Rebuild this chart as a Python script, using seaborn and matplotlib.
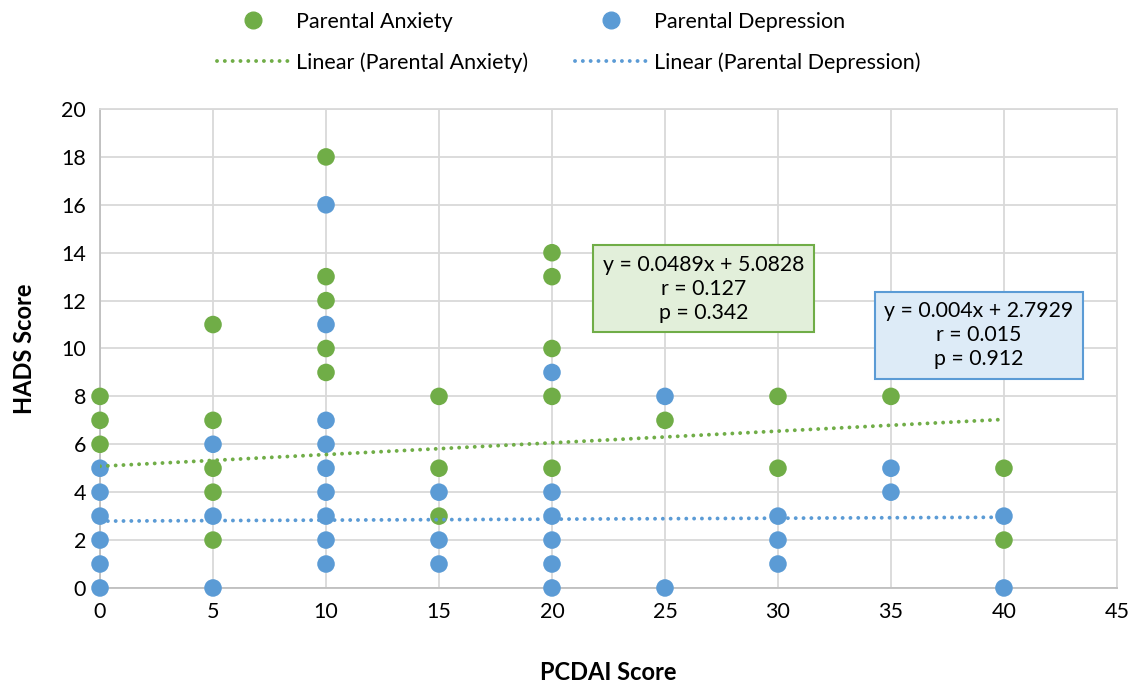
import numpy as np
import pandas as pd
import matplotlib
matplotlib.use('Agg')
import matplotlib.pyplot as plt
import seaborn as sns
from matplotlib.lines import Line2D

# Data
anx_x = [0, 0, 0, 5, 5, 5, 5, 5, 10, 10, 10, 10, 10, 15, 15, 15,
         20, 20, 20, 20, 20, 25, 30, 30, 35, 40, 40]
anx_y = [8, 7, 6, 11, 7, 5, 4, 2, 18, 13, 12, 10, 9, 8, 5, 3,
         14, 13, 10, 8, 5, 7, 8, 5, 8, 5, 2]
dep_x = [0, 0, 0, 0, 0, 0, 5, 5, 5, 10, 10, 10, 10, 10, 10, 10, 10, 10,
         15, 15, 15, 20, 20, 20, 20, 20, 20, 25, 25, 30, 30, 30, 35, 35, 40, 40]
dep_y = [5, 4, 3, 2, 1, 0, 6, 3, 0, 16, 11, 7, 6, 5, 4, 3, 2, 1,
         4, 2, 1, 9, 4, 3, 2, 1, 0, 8, 0, 3, 2, 1, 5, 4, 3, 0]

# Trendline coefficients as printed in the chart
anx_fit = (0.0489, 5.0828)
dep_fit = (0.004, 2.7929)
fit_range = [0, 40]

green = '#70AD47'
blue = '#5B9BD5'
dotted = (0, (0.01, 2.0))

df = pd.concat([
    pd.DataFrame({'PCDAI': anx_x, 'HADS': anx_y, 'group': 'Parental Anxiety'}),
    pd.DataFrame({'PCDAI': dep_x, 'HADS': dep_y, 'group': 'Parental Depression'}),
])

sns.set_style('white')
plt.rcParams['font.family'] = ['Lato', 'DejaVu Sans']
plt.rcParams['text.color'] = 'black'

fig = plt.figure(figsize=(11.38, 6.84), dpi=100)
ax = fig.add_axes([0.0879, 0.1404, 0.8936, 0.7002])

sns.scatterplot(data=df, x='PCDAI', y='HADS', hue='group',
                palette={'Parental Anxiety': green, 'Parental Depression': blue},
                s=160, edgecolor='none', ax=ax, legend=False, zorder=3, clip_on=False)

fx = np.array(fit_range)
ax.plot(fx, anx_fit[0] * fx + anx_fit[1], color=green, lw=2.8,
        linestyle=dotted, dash_capstyle='round', zorder=4)
ax.plot(fx, dep_fit[0] * fx + dep_fit[1], color=blue, lw=2.8,
        linestyle=dotted, dash_capstyle='round', zorder=4)

ax.set_xlim(0, 45)
ax.set_ylim(0, 20)
ax.set_xticks(range(0, 46, 5))
ax.set_yticks(range(0, 21, 2))
ax.grid(True, color='#D9D9D9', lw=1.3)
ax.set_axisbelow(True)
for side in ['top', 'right']:
    ax.spines[side].set_color('#D9D9D9')
    ax.spines[side].set_linewidth(1.3)
for side in ['left', 'bottom']:
    ax.spines[side].set_color('#BFBFBF')
    ax.spines[side].set_linewidth(1.3)
ax.tick_params(axis='both', length=0, labelsize=15.5, pad=10, labelcolor='black')
ax.set_xlabel('PCDAI Score', fontsize=17, fontweight='bold', labelpad=28, color='black')
ax.set_ylabel('HADS Score', fontsize=17, fontweight='bold', labelpad=18, color='black')

ax.text(26.7, 12.5, 'y = 0.0489x + 5.0828\nr = 0.127\np = 0.342',
        ha='center', va='center', fontsize=15.3, linespacing=1.25, zorder=5,
        bbox=dict(boxstyle='square,pad=0.45', fc='#E2EFDA', ec=green, lw=1.5))
ax.text(38.9, 10.55, 'y = 0.004x + 2.7929\nr = 0.015\np = 0.912',
        ha='center', va='center', fontsize=15.3, linespacing=1.25, zorder=5,
        bbox=dict(boxstyle='square,pad=0.45', fc='#DDEBF7', ec=blue, lw=1.5))

handles = [
    Line2D([], [], marker='o', color=green, ls='none', markersize=12),
    Line2D([], [], color=green, lw=2.8, ls=dotted, dash_capstyle='round'),
    Line2D([], [], marker='o', color=blue, ls='none', markersize=12),
    Line2D([], [], color=blue, lw=2.8, ls=dotted, dash_capstyle='round'),
]
labels = ['Parental Anxiety', 'Linear (Parental Anxiety)',
          'Parental Depression', 'Linear (Parental Depression)']
fig.legend(handles, labels, ncol=2, loc='upper center', bbox_to_anchor=(0.5, 1.0),
           frameon=False, fontsize=15.5, handlelength=3.3, columnspacing=2.2,
           labelspacing=0.95, handletextpad=0.35, borderaxespad=0.15)

fig.savefig('out.png', dpi=100)
